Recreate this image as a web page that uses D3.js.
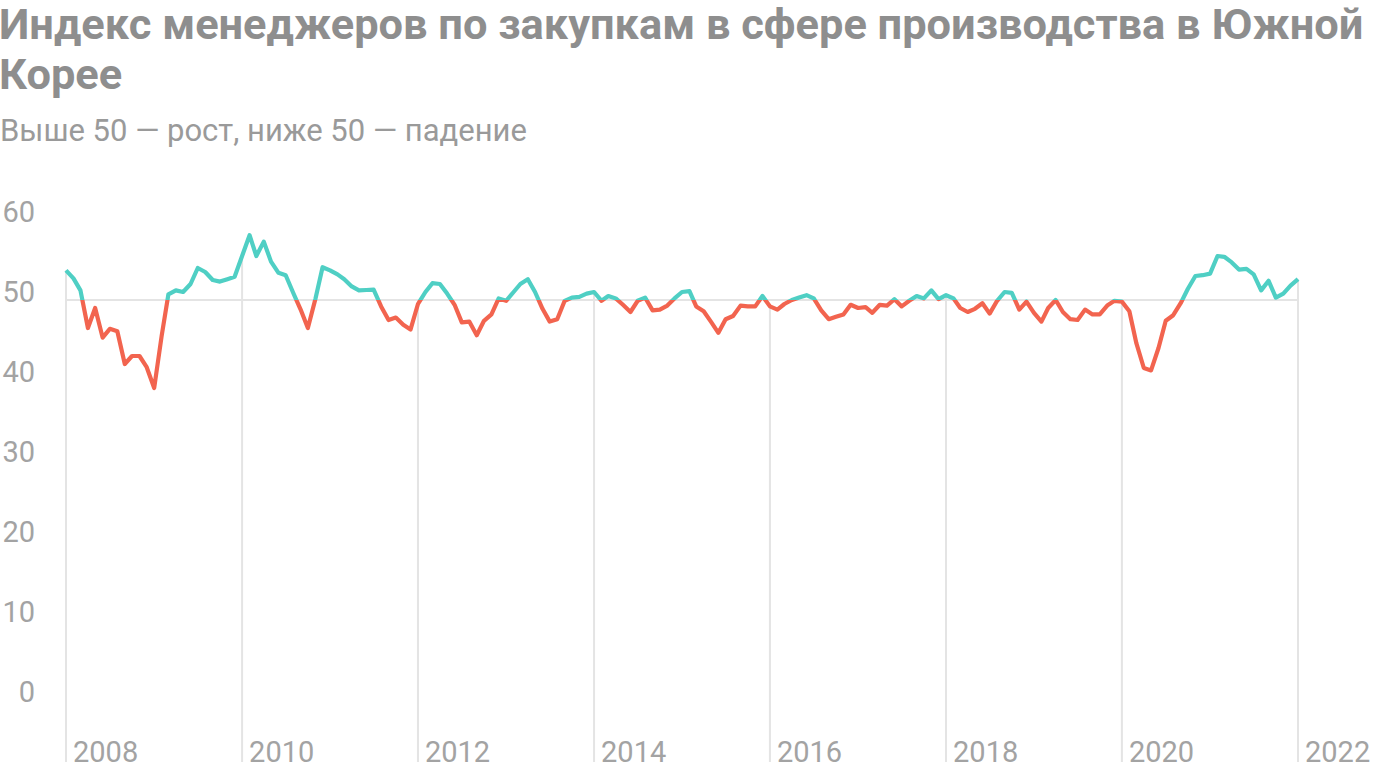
<!DOCTYPE html>
<html><head><meta charset="utf-8">
<script src="https://cdn.jsdelivr.net/npm/d3@7"></script>
<style>
html,body{margin:0;padding:0;background:#fff;}
svg{display:block;font-family:Roboto,"Noto Sans",sans-serif;}
</style></head>
<body><svg id="chart" width="1400" height="772"></svg>
<script>
const titleLines = ["Индекс менеджеров по закупкам в сфере производства в Южной", "Корее"];
const subtitle = "Выше 50 — рост, ниже 50 — падение";
const startYear = 2008, startMonth = 0;
// Monthly PMI, Jan 2008 – Jan 2022
const pmi = [
 53.7,52.7,51.2,46.5,49.0,45.3,46.4,46.1,42.0,43.0,43.0,41.6,
 39.0,45.5,50.7,51.2,51.0,52.0,54.0,53.5,52.5,52.3,52.6,52.9,
 55.5,58.1,55.5,57.3,54.8,53.4,53.1,50.9,48.8,46.5,50.1,54.1,
 53.7,53.2,52.6,51.7,51.2,51.25,51.3,49.2,47.5,47.8,46.9,46.3,
 49.5,51.0,52.1,52.0,50.8,49.4,47.2,47.3,45.6,47.4,48.2,50.2,
 49.9,51.0,52.0,52.6,51.0,48.9,47.3,47.6,49.9,50.3,50.4,50.8,
 51.0,49.9,50.5,50.2,49.4,48.5,49.9,50.3,48.7,48.8,49.3,50.2,
 51.0,51.1,49.2,48.6,47.3,45.9,47.6,48.0,49.3,49.2,49.2,50.5,
 49.2,48.8,49.5,50.0,50.3,50.6,50.2,48.7,47.6,47.9,48.2,49.4,
 49.0,49.1,48.4,49.4,49.3,50.1,49.2,49.9,50.5,50.2,51.2,50.1,
 50.6,50.2,49.0,48.5,48.9,49.6,48.3,49.9,51.0,50.9,48.8,49.8,
 48.4,47.3,49.0,50.0,48.5,47.6,47.5,48.8,48.2,48.2,49.3,49.9,
 49.8,48.6,44.6,41.5,41.2,44.0,47.4,48.1,49.6,51.4,53.0,53.1,
 53.3,55.5,55.4,54.7,53.8,53.9,53.2,51.2,52.4,50.3,50.8,51.8,
 52.6
];
const yTicks = [0,10,20,30,40,50,60];
const threshold = 50;
const yearTicks = [2008,2010,2012,2014,2016,2018,2020,2022];

const colUp = "#4fcfc4", colDown = "#f2644f", grid = "#e4e4e4", txt = "#9a9a9a";

const svg = d3.select("#chart");
const data = pmi.map((v,i)=>({date:new Date(startYear, startMonth+i, 1), v}));

const x = d3.scaleTime().domain([new Date(2008,0,1), new Date(2022,0,1)]).range([66,1298]);
const y = d3.scaleLinear().domain([0,60]).range([700,220]);
const bottom = 762;

// title
svg.append("g").selectAll("text").data(titleLines).join("text")
  .attr("x",-1).attr("y",(d,i)=>39+i*50)
  .attr("font-size",43.4).attr("font-weight",700).attr("fill","#8e8e8e")
  .text(d=>d);
svg.append("text").attr("x",0).attr("y",141).attr("font-size",31).attr("fill",txt).text(subtitle);

// y labels
svg.append("g").selectAll("text").data(yTicks).join("text")
  .attr("x",35).attr("y",d=>y(d)+2).attr("text-anchor","end")
  .attr("font-size",29).attr("fill","#a3a3a3").text(d=>d);

// year drop lines
const byYear = yr => data[(yr-startYear)*12];
const yg = svg.append("g");
yg.selectAll("line").data(yearTicks).join("line")
  .attr("x1",d=>x(new Date(d,0,1))).attr("x2",d=>x(new Date(d,0,1)))
  .attr("y1",d=>y(byYear(d).v)).attr("y2",bottom)
  .attr("stroke",grid).attr("stroke-width",2);
yg.selectAll("text").data(yearTicks).join("text")
  .attr("x",d=>x(new Date(d,0,1))+7).attr("y",bottom)
  .attr("font-size",29).attr("fill","#a3a3a3").text(d=>d);

// 50 line
svg.append("line").attr("x1",x.range()[0]).attr("x2",x.range()[1])
  .attr("y1",y(threshold)).attr("y2",y(threshold))
  .attr("stroke",grid).attr("stroke-width",2);

// clips
const defs = svg.append("defs");
defs.append("clipPath").attr("id","above").append("rect")
  .attr("x",0).attr("y",0).attr("width",1400).attr("height",y(threshold));
defs.append("clipPath").attr("id","below").append("rect")
  .attr("x",0).attr("y",y(threshold)).attr("width",1400).attr("height",772-y(threshold));

const line = d3.line().x(d=>x(d.date)).y(d=>y(d.v));
svg.append("path").datum(data).attr("d",line).attr("clip-path","url(#below)")
  .attr("fill","none").attr("stroke",colDown).attr("stroke-width",4.2).attr("stroke-linejoin","round");
svg.append("path").datum(data).attr("d",line).attr("clip-path","url(#above)")
  .attr("fill","none").attr("stroke",colUp).attr("stroke-width",4.2).attr("stroke-linejoin","round");
</script></body></html>
